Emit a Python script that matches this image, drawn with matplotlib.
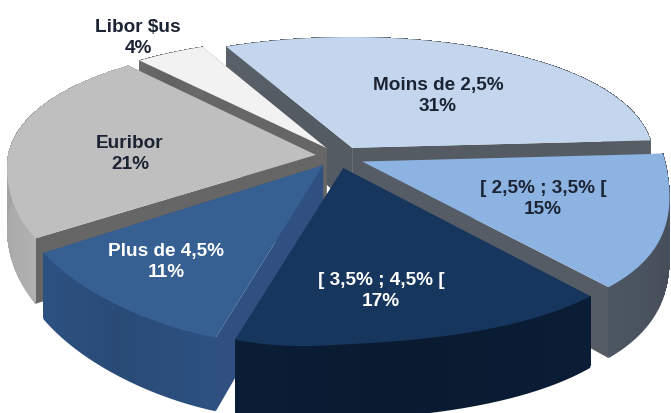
import numpy as np
import matplotlib
matplotlib.use("Agg")
import matplotlib.pyplot as plt
from matplotlib.collections import PolyCollection
from matplotlib.colors import to_rgb

labels = ["Moins de 2,5%", "[ 2,5% ; 3,5% [", "[ 3,5% ; 4,5% [", "Plus de 4,5%", "Euribor", "Libor $us"]
values = [31, 15, 17, 11, 21, 4]
top_colors = ["#c3d6ee", "#8db3e2", "#17365d", "#366092", "#bfbfbf", "#f2f2f2"]
wall_colors = ["#555b63", "#49525e", "#0a1c33", "#2b4e7c", "#a8a8a8", "#666666"]
face_colors = ["#555b63", "#555c66", "#17365d", "#2f5080", "#666666", "#666666"]
text_colors = ["#1c2433", "#1c2433", "white", "white", "#1c2433", "#1c2433"]
# label anchor in pixels
label_x = [438, 543, 381, 166, 130, 138]
label_y = [96, 199, 291, 262, 154, 38]

start_angle = -26.0  # clockwise from top
cx, cy = 340, 158
rx, ry = 308, 135
rx_right = 302
persp_x, persp_y = 0.08, 0.19
explode = 0.08
depth = 60


def project(X, Y, z=0.0):
    X = np.asarray(X, dtype=float)
    Y = np.asarray(Y, dtype=float)
    sx = 1 / (1 + persp_x * Y)
    sy = 1 / (1 + persp_y * Y)
    px = cx + np.where(X > 0, rx_right, rx) * X * sx
    py = cy - ry * Y * sy + z * sy
    # the picture's view is not square on: front corners pull away
    front = np.clip(-Y, 0, None)
    px = px + 93 * np.clip(X, 0, None) * front**2 + 60 * np.clip(-X, 0, None) * front**3
    py = py + 40 * 0.5 * (-X + np.sqrt(X**2 + 0.04)) * front
    return px, py


fig = plt.figure(figsize=(6.71, 4.14), dpi=100)
ax = fig.add_axes([0, 0, 1, 1])
ax.set_xlim(0, 671)
ax.set_ylim(414, 0)
ax.axis("off")

total = sum(values)
edges = start_angle + np.cumsum([0] + values) / total * 360
mids = (edges[:-1] + edges[1:]) / 2
# back slices first, front ones paint over them
order = np.argsort(-np.cos(np.radians(mids)))


def shade(c, f):
    return tuple(min(1, v * f) for v in to_rgb(c))


z = 2
for i in order:
    mid = np.radians(mids[i])
    ox, oy = explode * np.sin(mid), explode * np.cos(mid)
    t = np.radians(np.linspace(edges[i], edges[i + 1], 80))
    X = ox + np.sin(t)
    Y = oy + np.cos(t)

    # radial faces, straight from the apex to the rim
    ax_x, ax_y = project(ox, oy)
    ax_bx, ax_by = project(ox, oy, depth)
    for j in (0, -1):
        px, py = project(X[j], Y[j])
        qx, qy = project(X[j], Y[j], depth)
        ax.fill([ax_x, px, qx, ax_bx], [ax_y, py, qy, ax_by], color=face_colors[i], lw=0, zorder=z)
    z += 1

    # outer wall: flat shape for clean edges, then shading along the arc
    wx0, wy0 = project(X, Y)
    wx1, wy1 = project(X, Y, depth)
    ax.fill(np.r_[wx0, wx1[::-1]], np.r_[wy0, wy1[::-1]], color=wall_colors[i], lw=0, zorder=z)
    z += 1
    bx, by = project(X, Y, depth * 0.97)
    quads, cols = [], []
    for j in range(len(t) - 1):
        quads.append([(wx0[j], wy0[j]), (wx0[j + 1], wy0[j + 1]), (bx[j + 1], by[j + 1]), (bx[j], by[j])])
        cols.append(shade(wall_colors[i], 0.95 + 0.1 * abs(2 * j / (len(t) - 2) - 1)))
    ax.add_collection(PolyCollection(quads, facecolors=cols, edgecolors="none", antialiaseds=False, zorder=z))
    z += 1

    # top face
    sx, sy = project(np.r_[ox, X], np.r_[oy, Y])
    ax.fill(sx, sy, color=top_colors[i], lw=0, zorder=z)
    z += 1

for lab, val, lx, ly, tc in zip(labels, values, label_x, label_y, text_colors):
    ax.text(lx, ly, f"{lab}\n{val}%", ha="center", va="center", color=tc, fontsize=13.7,
            fontweight="bold", family="Liberation Sans", linespacing=1.3, zorder=50)

fig.savefig("out.png", dpi=100)
